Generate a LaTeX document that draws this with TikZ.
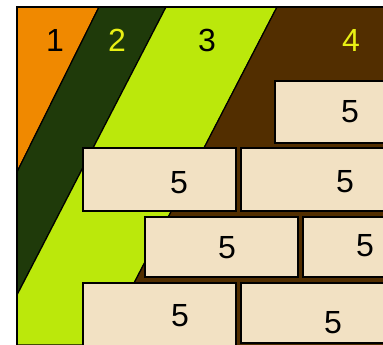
\documentclass[tikz,border=0pt]{standalone}
\usepackage{fontspec}
\setmainfont{Liberation Sans}
\usepackage{tikz}

\definecolor{stripeorange}{RGB}{240,137,0}
\definecolor{stripedark}{RGB}{31,58,10}
\definecolor{stripelime}{RGB}{187,232,11}
\definecolor{stripebrown}{RGB}{82,46,0}
\definecolor{brickbeige}{RGB}{242,225,195}
\definecolor{labelyellow}{RGB}{232,240,20}

\begin{document}
\begin{tikzpicture}[x=1pt,y=1pt]
				\tikzstyle{every node}+=[inner sep=0pt, font=\fontsize{32}{38}\selectfont]
				\tikzstyle{brick}=[draw=black, line width=2pt, fill=brickbeige]
				\useasboundingbox (0,0) rectangle (383,-345);
				\begin{scope}
				\clip (17,-7) rectangle (383,-345);
				% stripes
				\filldraw [fill=stripeorange, draw=black, line width=1.2pt] (17,-7) -- (99,-7) -- (17,-172) -- cycle;
				\filldraw [fill=stripedark, draw=black, line width=1.2pt] (99,-7) -- (166,-7) -- (17,-295) -- (17,-172) -- cycle;
				\filldraw [fill=stripelime, draw=black, line width=1.2pt] (166,-7) -- (277,-7) -- (102,-345) -- (17,-345) -- (17,-295) -- cycle;
				\filldraw [fill=stripebrown, draw=black, line width=1.2pt] (277,-7) -- (390,-7) -- (390,-350) -- (102,-345) -- cycle;
				% bricks
				\draw [brick] (275,-81) rectangle (395,-143);
				\draw [brick] (83,-148) rectangle (236,-211);
				\draw [brick] (241,-148) rectangle (395,-211);
				\draw [brick] (145,-217) rectangle (298,-277);
				\draw [brick] (303,-217) rectangle (395,-277);
				\draw [brick] (83,-283) rectangle (236,-360);
				\draw [brick] (241,-283) rectangle (395,-343);
				\end{scope}
				\draw [black, line width=2pt] (17,-345) -- (17,-7) -- (383,-7);
				% stripe labels
				\draw (55,-40) node (one) {1};
				\draw (117,-40) node [text=labelyellow] (two) {2};
				\draw (207,-40) node (three) {3};
				\draw (351,-40) node [text=labelyellow] (four) {4};
				% brick labels
				\draw (350,-112) node (fiveA) {5};
				\draw (179,-183) node (fiveB) {5};
				\draw (345,-182) node (fiveC) {5};
				\draw (227,-248) node (fiveD) {5};
				\draw (365,-246) node (fiveE) {5};
				\draw (180,-316) node (fiveF) {5};
				\draw (333,-323) node (fiveG) {5};
			\end{tikzpicture}
\end{document}
